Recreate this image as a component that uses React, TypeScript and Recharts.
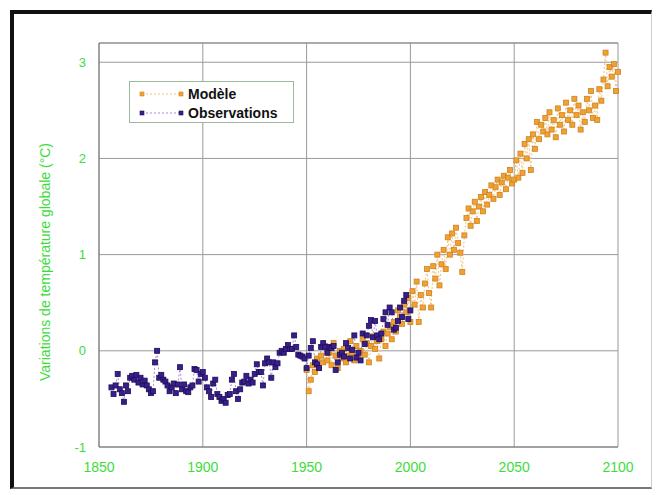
import React from "react";
import { LineChart, Line, XAxis, YAxis, CartesianGrid, ReferenceLine, Legend } from "recharts";

const GREEN = "#3ddc3d";
const OBS_FILL = "#3b1e8e";
const OBS_LINE = "#a58ad8";
const MOD_FILL = "#f5a02e";
const MOD_LINE = "#f6bf7a";

const xTicks = [1850, 1900, 1950, 2000, 2050, 2100];
const xMinorTicks = [1860, 1870, 1880, 1890, 1910, 1920, 1930, 1940, 1960, 1970, 1980, 1990, 2010, 2020, 2030, 2040, 2060, 2070, 2080, 2090];
const yTicks = [-1, 0, 1, 2, 3];

// observations, one value per year from 1856
const obsStart = 1856;
const obsValues = [
  -0.38, -0.45, -0.36, -0.24, -0.4, -0.44, -0.53, -0.36, -0.42, -0.28,
  -0.26, -0.3, -0.25, -0.33, -0.28, -0.35, -0.31, -0.36, -0.4, -0.44,
  -0.42, -0.12, 0.0, -0.28, -0.25, -0.3, -0.32, -0.36, -0.42, -0.38,
  -0.34, -0.44, -0.35, -0.17, -0.4, -0.35, -0.42, -0.43, -0.38, -0.36,
  -0.19, -0.2, -0.32, -0.24, -0.22, -0.28, -0.38, -0.42, -0.48, -0.34,
  -0.3, -0.45, -0.48, -0.52, -0.5, -0.54, -0.46, -0.45, -0.3, -0.24,
  -0.42, -0.5, -0.4, -0.33, -0.32, -0.26, -0.34, -0.3, -0.33, -0.24,
  -0.14, -0.22, -0.22, -0.36, -0.13, -0.08, -0.12, -0.28, -0.12, -0.17,
  -0.13, -0.02, 0.0, -0.02, 0.02, 0.06, 0.02, 0.02, 0.16, 0.04,
  -0.04, -0.05, -0.06, -0.08, -0.18, -0.05, 0.03, 0.1, -0.12, -0.14,
  -0.18, 0.04, 0.08, 0.04, -0.02, 0.04, 0.03, 0.05, -0.2, -0.12,
  -0.04, -0.02, -0.06, 0.08, 0.03, -0.08, 0.01, 0.16, -0.07, -0.02,
  -0.1, 0.18, 0.07, 0.16, 0.26, 0.32, 0.14, 0.31, 0.16, 0.12,
  0.18, 0.33, 0.4, 0.27, 0.45, 0.4, 0.22, 0.24, 0.31, 0.45,
  0.35, 0.52, 0.58, 0.33, 0.42,
];

// model run, one value per year from 1950
const modStart = 1950;
const modValues = [
  -0.2, -0.42, -0.3, -0.15, -0.22, -0.08, -0.18, -0.05, -0.12, 0.05,
  -0.1, -0.02, -0.15, 0.08, -0.05, -0.18, 0.0, -0.08, 0.02, -0.12,
  -0.05, 0.1, -0.02, -0.1, 0.05, -0.08, 0.0, 0.12, -0.04, 0.08,
  -0.12, 0.05, 0.15, 0.02, 0.1, -0.08, 0.12, 0.2, 0.05, 0.18,
  0.25, 0.12, 0.3, 0.2, 0.42, 0.35, 0.28, 0.48, 0.4, 0.55,
  0.3, 0.62, 0.48, 0.72, 0.3, 0.58, 0.45, 0.7, 0.85, 0.6,
  0.45, 0.88, 0.75, 1.0, 0.68, 0.9, 1.05, 0.85, 1.18, 1.0,
  1.22, 1.05, 1.28, 1.12, 1.02, 0.82, 1.2, 1.38, 1.48, 1.3,
  1.45, 1.55, 1.35, 1.5, 1.6, 1.45, 1.65, 1.52, 1.62, 1.72,
  1.58, 1.7, 1.78, 1.62, 1.75, 1.82, 1.68, 1.8, 1.88, 1.74,
  1.78, 1.98, 1.8, 2.05, 1.85, 2.15, 2.0, 2.2, 1.88, 2.25,
  2.1, 2.38, 2.2, 2.35, 2.28, 2.42, 2.25, 2.48, 2.3, 2.4,
  2.22, 2.52, 2.35, 2.45, 2.28, 2.58, 2.4, 2.5, 2.35, 2.62,
  2.45, 2.55, 2.3, 2.48, 2.38, 2.62, 2.5, 2.7, 2.42, 2.55,
  2.4, 2.72, 2.6, 2.82, 3.1, 2.75, 2.95, 2.85, 2.98, 2.7,
  2.9,
];

const obsData = obsValues.map((v, i) => ({ year: obsStart + i, value: v }));
const modData = modValues.map((v, i) => ({ year: modStart + i, value: v }));

const squareDot = (fill: string, stroke: string) => (props: any) => {
  const { cx, cy, key } = props;
  if (cx == null || cy == null) return <g key={key} />;
  return <rect key={key} x={cx - 2.5} y={cy - 2.5} width={5} height={5} fill={fill} stroke={stroke} strokeWidth={0.8} />;
};

const legendItems = [
  { label: "Modèle", fill: MOD_FILL, stroke: "#c78425", line: MOD_LINE },
  { label: "Observations", fill: OBS_FILL, stroke: "#1c0e55", line: OBS_LINE },
];

function LegendBox() {
  return (
    <div style={{ border: "1px solid #9db89d", background: "#fff", width: 165, height: 42, boxSizing: "border-box", padding: "2px 0 0 8px" }}>
      {legendItems.map((it) => (
        <div key={it.label} style={{ display: "flex", alignItems: "center", height: 19 }}>
          <svg width={48} height={10}>
            <line x1={4} y1={5} x2={44} y2={5} stroke={it.line} strokeDasharray="2 2" />
            <rect x={2} y={3} width={4} height={4} fill={it.fill} stroke={it.stroke} strokeWidth={0.6} />
            <rect x={41} y={3} width={4} height={4} fill={it.fill} stroke={it.stroke} strokeWidth={0.6} />
          </svg>
          <span style={{ fontFamily: "'Liberation Sans', Arial, sans-serif", fontWeight: "bold", fontSize: 14, color: "#111", marginLeft: 2 }}>
            {it.label}
          </span>
        </div>
      ))}
    </div>
  );
}

export default function App() {
  return (
    <div style={{ position: "absolute", left: 0, top: 0, width: 657, height: 495, background: "#fff" }}>
      <div
        style={{
          position: "absolute",
          left: 10,
          top: 10,
          width: 637,
          height: 473,
          borderTop: "4px solid #111",
          borderLeft: "4px solid #111",
          borderRight: "1px solid #ccc",
          borderBottom: "2px solid #777",
        }}
      />
      <LineChart
        width={657}
        height={495}
        margin={{ top: 43, right: 39, bottom: 18, left: 39 }}
        style={{ position: "absolute", left: 0, top: 0, fontFamily: "'Liberation Sans', Arial, sans-serif" }}
      >
        <CartesianGrid stroke="#9a9a9a" strokeWidth={1} />
        <XAxis
          dataKey="year"
          type="number"
          domain={[1850, 2100]}
          ticks={xTicks}
          allowDuplicatedCategory={false}
          height={30}
          axisLine={{ stroke: "#777" }}
          tickLine={false}
          tickMargin={9}
          tick={{ fill: GREEN, fontSize: 14 }}
        />
        <XAxis
          xAxisId="top"
          orientation="top"
          type="number"
          dataKey="year"
          domain={[1850, 2100]}
          ticks={xMinorTicks}
          mirror
          height={0}
          axisLine={false}
          tickSize={4}
          tickLine={{ stroke: "#999" }}
          tickFormatter={() => ""}
        />
        <YAxis
          type="number"
          domain={[-1, 3.2]}
          ticks={yTicks}
          width={60}
          axisLine={{ stroke: "#777" }}
          tickLine={false}
          tickMargin={7}
          tick={{ fill: GREEN, fontSize: 13 }}
          label={{
            value: "Variations de température globale (°C)",
            angle: -90,
            position: "center",
            dx: -24,
            dy: 17,
            fill: GREEN,
            fontSize: 14,
          }}
        />
        <ReferenceLine y={3.2} stroke="#888" />
        <Line
          data={modData}
          dataKey="value"
          name="Modèle"
          stroke={MOD_LINE}
          strokeWidth={1}
          strokeDasharray="2 2"
          dot={squareDot(MOD_FILL, "#c78425")}
          isAnimationActive={false}
        />
        <Line
          data={obsData}
          dataKey="value"
          name="Observations"
          stroke={OBS_LINE}
          strokeWidth={1}
          strokeDasharray="2 2"
          dot={squareDot(OBS_FILL, "#1c0e55")}
          isAnimationActive={false}
        />
        <Legend
          layout="vertical"
          align="center"
          verticalAlign="middle"
          content={() => <LegendBox />}
          wrapperStyle={{ left: 129, top: 81, width: 167, height: 44 }}
        />
      </LineChart>
    </div>
  );
}
